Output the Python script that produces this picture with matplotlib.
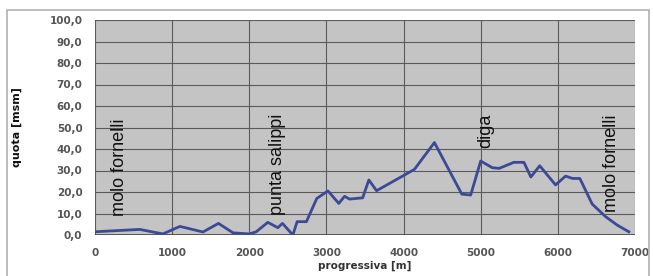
import matplotlib
matplotlib.use("Agg")
import matplotlib.pyplot as plt
from matplotlib.patches import Rectangle

# data
progressiva = [0, 580, 880, 1100, 1400, 1600, 1790, 2000, 2090, 2240, 2370, 2430,
               2565, 2620, 2740, 2875, 3020, 3160, 3235, 3300, 3470, 3550, 3650,
               4140, 4400, 4755, 4870, 5000, 5150, 5240, 5430, 5560, 5650, 5765,
               5970, 6100, 6190, 6285, 6445, 6620, 6770, 6920]
quota = [1.5, 2.6, 0.5, 4.0, 1.4, 5.4, 1.0, 0.5, 1.5, 5.9, 3.4, 5.4,
         0.0, 6.2, 6.2, 17.0, 20.5, 14.7, 18.0, 16.7, 17.3, 25.6, 20.6,
         30.5, 43.0, 19.0, 18.6, 34.4, 31.3, 31.0, 33.8, 33.8, 27.0, 32.2,
         23.3, 27.4, 26.3, 26.3, 14.4, 8.5, 4.6, 1.5]
x_ticks = [0, 1000, 2000, 3000, 4000, 5000, 6000, 7000]
y_ticks = [0, 10, 20, 30, 40, 50, 60, 70, 80, 90, 100]
y_tick_labels = ["0,0", "10,0", "20,0", "30,0", "40,0", "50,0", "60,0",
                 "70,0", "80,0", "90,0", "100,0"]
labels = ["molo fornelli", "punta salippi", "diga", "molo fornelli"]
label_x = [320, 2370, 5070, 6690]
label_y = [8.8, 9.3, 40.5, 10.7]

W, H = 653, 276
fig = plt.figure(figsize=(W / 100, H / 100), dpi=100)
fig.patch.set_facecolor("white")
fig.patches.append(Rectangle((7 / W, -0.1), (W - 4 - 7) / W, 1.1 - 10 / H,
                             transform=fig.transFigure, fill=False,
                             edgecolor="#b0b0b0", linewidth=1.2))

ax = fig.add_axes([95 / W, 1 - 235 / H, (635 - 95) / W, (235 - 20) / H])
ax.set_facecolor("#c4c4c4")
ax.plot(progressiva, quota, color="#3c4a96", linewidth=2.0, zorder=3)
ax.set_xlim(0, 7000)
ax.set_ylim(0, 100)
ax.set_xticks(x_ticks)
ax.set_yticks(y_ticks)
ax.set_yticklabels(y_tick_labels)
ax.grid(True, color="#5a5a5a", linewidth=0.8)
ax.set_axisbelow(True)
for s in ax.spines.values():
    s.set_visible(False)
ax.axhline(0, color="#444444", linewidth=1.2, zorder=2)
ax.tick_params(length=0, pad=9, labelsize=7.5, labelcolor="#555555")
for t in ax.get_xticklabels() + ax.get_yticklabels():
    t.set_fontweight("bold")
ax.set_xlabel("progressiva [m]", fontsize=7.5, fontweight="bold",
              color="#333333", labelpad=2)
ax.set_ylabel("quota [msm]", fontsize=8, fontweight="bold", color="#111111",
              labelpad=20)

for txt, x, y in zip(labels, label_x, label_y):
    ax.text(x, y, txt, rotation=90, ha="center", va="bottom", fontsize=13,
            family=["Liberation Sans Narrow", "Liberation Sans", "DejaVu Sans"],
            color="#111111", zorder=4)

fig.savefig("out.png", dpi=100)
